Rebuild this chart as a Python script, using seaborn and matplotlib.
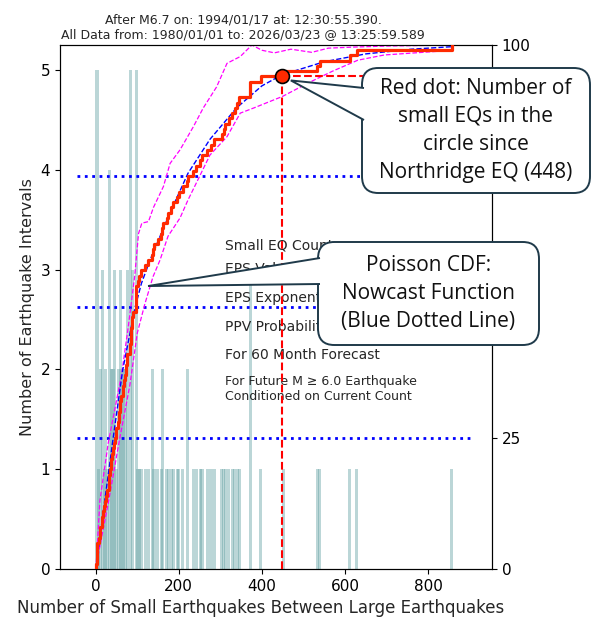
import numpy as np
import matplotlib
matplotlib.use("Agg")
import matplotlib.pyplot as plt
import seaborn as sns
from matplotlib.patches import FancyBboxPatch, Polygon

sns.set_style("ticks")
plt.rcParams['font.family'] = ['DejaVu Sans']

small_eq_counts = [
    1, 2, 2, 3, 3,
    9, 10, 11, 14, 15, 18, 20,
    23, 24, 28, 31, 32, 33, 34, 36, 37,
    40, 42, 44, 46,
    48, 50, 53, 55, 57, 58, 59, 62,
    65, 66, 67, 70, 72, 74, 75, 76,
    83, 83, 84, 85, 85,
    87, 88, 89,
    96, 96, 97, 97, 98,
    101, 105, 109,
    118, 126, 136, 137, 141, 150, 158, 160, 163,
    172, 174, 181, 186, 195,
    201, 210, 220, 221,
    233, 242, 252,
    256, 268, 278,
    284, 303,
    308, 312,
    322, 328,
    335, 341, 346,
    371, 372, 372,
    399,
    453,
    533, 540,
    612, 629,
    858,
]

current_count = 448

# Poisson CDF (nowcast function), percent
poisson_x = [0, 20, 42, 65, 95, 110, 131, 179, 222, 275, 339, 400, 448, 550, 650, 760, 862]
poisson_pct = [0, 12, 25, 38, 50, 54.5, 59, 68, 75.5, 82, 88, 92.2, 94.3, 96.8, 98.3, 99.2, 99.7]

# confidence bounds, percent
upper_x = [0, 2, 10, 30, 62, 78, 94, 103, 111, 127, 139, 163, 179, 203, 235, 259, 291, 316, 348,
           376, 400, 430, 470, 520, 560, 620, 700, 862]
upper_pct = [0, 2, 13, 24, 37, 46, 56, 64, 66, 66.3, 69, 73, 77.4, 80, 84.4, 88, 92, 96.5, 97.8,
             100, 99, 98.5, 99.2, 98.6, 99.4, 99.6, 99.8, 100]
lower_x = [0, 3, 30, 58, 82, 100, 118, 138, 155, 174, 203, 222, 235, 275, 316, 348, 381, 450,
           510, 570, 631, 695, 862]
lower_pct = [0, 1.5, 12.5, 25, 35, 45, 50.5, 55.8, 59, 63.5, 67, 70.4, 72.5, 79, 82.5, 87, 88, 90.2,
             92.7, 95, 97.1, 98.1, 99]

prob_levels = [25, 50, 75]
level_span = (-45, 900)

title_text = ("After M6.7 on: 1994/01/17 at: 12:30:55.390.\n"
              "All Data from: 1980/01/01 to: 2026/03/23 @ 13:25:59.589")
info_lines = ["Small EQ Count", "EPS Value", "EPS Exponent", "PPV Probability", "For 60 Month Forecast"]
info_y = [3.24, 3.01, 2.72, 2.42, 2.14]
info_note = "For Future M \u2265 6.0 Earthquake\nConditioned on Current Count"

callout_dot = "Red dot: Number of\nsmall EQs in the\ncircle since\nNorthridge EQ (448)"
callout_poisson = "Poisson CDF:\nNowcast Function\n(Blue Dotted Line)"

W, H = 600, 620
fig = plt.figure(figsize=(W / 100, H / 100), dpi=100)
ax = fig.add_axes([60 / W, 1 - 569 / H, 432 / W, 524 / H])

# histogram of interval counts (bars wider than the bin so neighbours overlap)
sns.histplot(x=small_eq_counts, bins=200, ax=ax, color='#5f9ea0', alpha=0.42,
             linewidth=0, shrink=1.75)
ax.set_xlim(-86, 954)
ax.set_ylim(0, 5.25)
ax.set_xticks([0, 200, 400, 600, 800])
ax.set_yticks(range(6))
ax.tick_params(labelsize=11, colors='black')
ax.set_xlabel('Number of Small Earthquakes Between Large Earthquakes', fontsize=12, x=0.465)
ax.set_ylabel('Number of Earthquake Intervals', fontsize=11.5)
ax.set_title(title_text, fontsize=9, x=0.424, pad=5)
for s in ax.spines.values():
    s.set_color('black')

for txt, yy in zip(info_lines, info_y):
    ax.text(311, yy, txt, fontsize=10, va='center', ha='left')
ax.text(311, 1.80, info_note, fontsize=9, va='center', ha='left')

# cumulative percent axis
ax2 = ax.twinx()
ax2.set_ylim(0, 100)
ax2.set_yticks([0, 25, 50, 75, 100])
ax2.set_yticklabels(['0', '25', '', '', '100'])  # 50 and 75 sit under the callouts
ax2.tick_params(labelsize=11, colors='black')
for s in ax2.spines.values():
    s.set_color('black')

ax2.hlines(prob_levels, *level_span, colors='blue', linestyles=':', lw=2)

sns.lineplot(x=upper_x, y=upper_pct, ax=ax2, color='magenta', lw=0.9, linestyle='--')
sns.lineplot(x=lower_x, y=lower_pct, ax=ax2, color='magenta', lw=0.9, linestyle='--')
sns.lineplot(x=poisson_x, y=poisson_pct, ax=ax2, color='blue', lw=1, linestyle='--')

xs = np.sort(small_eq_counts)
ecdf = np.arange(1, len(xs) + 1) / len(xs) * 100
ax2.step(np.r_[xs[0], xs], np.r_[0, ecdf], where='post', color='#ff2a00', lw=2.3, zorder=5)

pct_now = np.mean(np.array(small_eq_counts) < current_count) * 100
ax2.vlines(current_count, 0, pct_now, colors='red', linestyles='--', lw=1.5, zorder=4)
ax2.hlines(pct_now, current_count, xs[-1], colors='red', linestyles='--', lw=1.5, zorder=4)
ax2.plot(current_count, pct_now, 'o', ms=10, mfc='#ff2a00', mec='black', mew=1.2, zorder=8)
ax2.set_ylabel('')


# callouts (figure pixel coordinates measured from top-left)
def fpt(x, y):
    return x / W, 1 - y / H


def to_px(axis, x, y):
    dx, dy = axis.transData.transform((x, y))
    return dx, H - dy


edge = '#1f3a4a'


def callout(text, box, tip, base_y):
    x0, y0, x1, y1 = box
    fx0, fy1 = fpt(x0, y1)
    patch = FancyBboxPatch((fx0, fy1), (x1 - x0) / W, (y1 - y0) / H,
                           boxstyle='round,pad=0,rounding_size=0.027',
                           transform=fig.transFigure, facecolor='white',
                           edgecolor=edge, lw=1.4, zorder=10)
    fig.add_artist(patch)
    pts = [fpt(x0 + 2, base_y[0]), fpt(*tip), fpt(x0 + 2, base_y[1])]
    ptr = Polygon(pts, closed=False, transform=fig.transFigure, facecolor='white',
                  edgecolor=edge, lw=1.4, zorder=11)
    fig.add_artist(ptr)
    fig.text((x0 + x1) / 2 / W, 1 - (y0 + y1) / 2 / H, text, ha='center', va='center',
             fontsize=15, family='Open Sans', linespacing=1.44, color='#111111', zorder=12)


dot_px = to_px(ax2, current_count, pct_now)
callout(callout_dot, (362, 68, 590, 193), (dot_px[0] + 9, dot_px[1] + 4), (88, 120))
tip2 = to_px(ax2, 126, 54)
callout(callout_poisson, (318, 242, 539, 345), tip2, (258, 284))

fig.savefig('out.png', dpi=100)
